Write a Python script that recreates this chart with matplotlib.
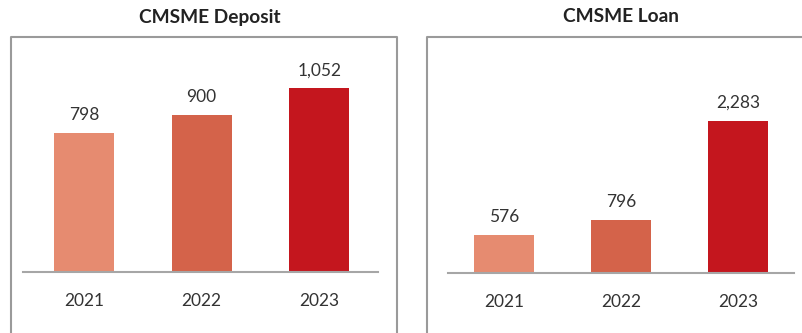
import matplotlib
matplotlib.use('Agg')
import matplotlib.pyplot as plt
from matplotlib.lines import Line2D

plt.rcParams['font.family'] = ['Lato', 'DejaVu Sans']

years = ['2021', '2022', '2023']
deposit = [798, 900, 1052]
loan = [576, 796, 2283]
colors = ['#E68B70', '#D4634A', '#C4161E']

W, H = 802, 333
fig = plt.figure(figsize=(W / 100, H / 100), dpi=100)


def px_axes(x0, y_base, x1, y_top):
    # convert pixel box (y from top) into figure fractions
    return fig.add_axes([x0 / W, (H - y_base) / H, (x1 - x0) / W, (y_base - y_top) / H])


def panel(ax, values, ymax, xlim):
    x = range(len(values))
    ax.bar(x, values, width=0.51, color=colors)
    for i, v in enumerate(values):
        ax.annotate(f'{v:,}', (i, v), xytext=(0, 7), textcoords='offset points',
                    ha='center', va='bottom', fontsize=12.5, color='#333333')
    ax.set_xlim(*xlim)
    ax.set_ylim(0, ymax)
    ax.set_xticks(list(x))
    ax.set_xticklabels(years, fontsize=12.5, color='#333333')
    ax.tick_params(axis='x', length=0, pad=15)
    ax.set_yticks([])
    for s in ['top', 'left', 'right']:
        ax.spines[s].set_visible(False)
    ax.spines['bottom'].set_color('#A6A6A6')
    ax.spines['bottom'].set_linewidth(1.5)
    ax.patch.set_alpha(0)
    return ax


ax1 = px_axes(23, 272, 378, 37)
panel(ax1, deposit, 1347, (-0.52, 2.5))
ax2 = px_axes(448, 273, 794, 37)
panel(ax2, loan, 3538, (-0.48, 2.48))

# panel frames (open at the bottom)
frame = dict(color='#9A9A9A', lw=1.5, transform=fig.transFigure)
def fx(p):
    return p / W
def fy(p):
    return (H - p) / H
fig.add_artist(Line2D([fx(11), fx(11), fx(397), fx(397)], [fy(340), fy(37), fy(37), fy(340)], **frame))
fig.add_artist(Line2D([fx(427), fx(427), fx(810)], [fy(340), fy(37), fy(37)], **frame))

fig.text(fx(210), fy(17), 'CMSME Deposit', ha='center', va='center',
         fontsize=13.8, fontweight='bold', color='#222222')
fig.text(fx(621), fy(17), 'CMSME Loan', ha='center', va='center',
         fontsize=13.8, fontweight='bold', color='#222222')

fig.savefig('out.png', dpi=100)
